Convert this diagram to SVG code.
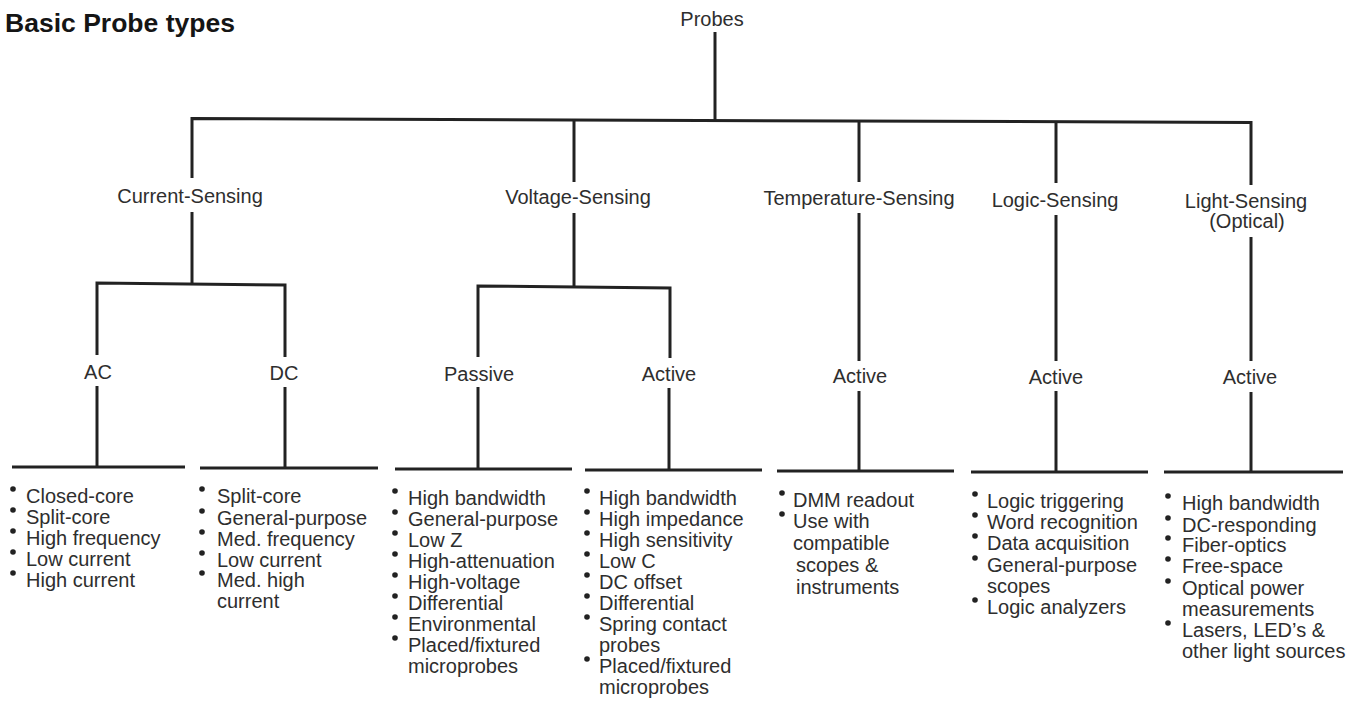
<svg xmlns="http://www.w3.org/2000/svg" width="1360" height="702" viewBox="0 0 1360 702">
<style>
.t{font-family:"Liberation Sans",Arial,sans-serif;font-size:20px;fill:#2e2e2e}
.c{text-anchor:middle}
.title{font-family:"Liberation Sans",Arial,sans-serif;font-size:26px;font-weight:bold;fill:#151515}
.ln{fill:none;stroke:#222;stroke-width:3;stroke-linecap:butt;stroke-linejoin:miter}
.b{fill:#222}
</style>
<rect width="1360" height="702" fill="#fff"/>
<text class="title" x="5" y="32" textLength="230" lengthAdjust="spacingAndGlyphs">Basic Probe types</text>

<g id="connectors">
<path class="ln" d="M715 32 V120"/>
<path class="ln" d="M192 178 V118.5 L1251 122.5 V185"/>
<path class="ln" d="M574 119.5 V182"/>
<path class="ln" d="M859 121 V182"/>
<path class="ln" d="M1056 121.5 V183"/>
<path class="ln" d="M192 212 V284"/>
<path class="ln" d="M97 355 V283 L285 285 V357"/>
<path class="ln" d="M97 386 V467"/>
<path class="ln" d="M285 387 V468"/>
<path class="ln" d="M12 467 H185"/>
<path class="ln" d="M200 468 H378"/>
<path class="ln" d="M574 213 V287"/>
<path class="ln" d="M478 357 V286 L670 288 V358"/>
<path class="ln" d="M478 387 V469"/>
<path class="ln" d="M669 388 V470"/>
<path class="ln" d="M395 469 H572"/>
<path class="ln" d="M585 470 H762"/>
<path class="ln" d="M859 213 V361"/>
<path class="ln" d="M859 391 V471"/>
<path class="ln" d="M777 471 H954"/>
<path class="ln" d="M1056 215 V361"/>
<path class="ln" d="M1056 391 V472"/>
<path class="ln" d="M971 472 H1148"/>
<path class="ln" d="M1251 237 V361"/>
<path class="ln" d="M1251 392 V472"/>
<path class="ln" d="M1164 472 H1343"/>
</g>

<g id="probes"><text class="t c" x="712" y="26">Probes</text></g>
<g id="current-sensing"><text class="t c" x="190" y="203">Current-Sensing</text></g>
<g id="voltage-sensing"><text class="t c" x="578" y="204">Voltage-Sensing</text></g>
<g id="temperature-sensing"><text class="t c" x="859" y="205">Temperature-Sensing</text></g>
<g id="logic-sensing"><text class="t c" x="1055" y="207">Logic-Sensing</text></g>
<g id="light-sensing"><text class="t c" x="1246" y="208">Light-Sensing</text><text class="t c" x="1247" y="228">(Optical)</text></g>

<g id="current-ac"><text class="t c" x="98" y="379">AC</text></g>
<g id="current-dc"><text class="t c" x="284" y="380">DC</text></g>
<g id="voltage-passive"><text class="t c" x="479" y="381">Passive</text></g>
<g id="voltage-active"><text class="t c" x="669" y="381">Active</text></g>
<g id="temperature-active"><text class="t c" x="860" y="383">Active</text></g>
<g id="logic-active"><text class="t c" x="1056" y="384">Active</text></g>
<g id="light-active"><text class="t c" x="1250" y="384">Active</text></g>

<g id="list-ac">
<circle class="b" cx="13" cy="489" r="2.8"/><circle class="b" cx="13" cy="510" r="2.8"/><circle class="b" cx="13" cy="531" r="2.8"/><circle class="b" cx="13" cy="552" r="2.8"/><circle class="b" cx="13" cy="573" r="2.8"/>
<text class="t"><tspan x="26" y="503">Closed-core</tspan><tspan x="26" y="524">Split-core</tspan><tspan x="26" y="545">High frequency</tspan><tspan x="26" y="566">Low current</tspan><tspan x="26" y="587">High current</tspan></text>
</g>

<g id="list-dc">
<circle class="b" cx="202" cy="489" r="2.8"/><circle class="b" cx="202" cy="511" r="2.8"/><circle class="b" cx="202" cy="532" r="2.8"/><circle class="b" cx="202" cy="553" r="2.8"/><circle class="b" cx="202" cy="573" r="2.8"/>
<text class="t"><tspan x="217" y="503">Split-core</tspan><tspan x="217" y="525">General-purpose</tspan><tspan x="217" y="546">Med. frequency</tspan><tspan x="217" y="567">Low current</tspan><tspan x="217" y="587">Med. high</tspan><tspan x="217" y="608">current</tspan></text>
</g>

<g id="list-passive">
<circle class="b" cx="395" cy="491" r="2.8"/><circle class="b" cx="395" cy="512" r="2.8"/><circle class="b" cx="395" cy="533" r="2.8"/><circle class="b" cx="395" cy="554" r="2.8"/><circle class="b" cx="395" cy="575" r="2.8"/><circle class="b" cx="395" cy="596" r="2.8"/><circle class="b" cx="395" cy="617" r="2.8"/><circle class="b" cx="395" cy="638" r="2.8"/>
<text class="t"><tspan x="408" y="505">High bandwidth</tspan><tspan x="408" y="526">General-purpose</tspan><tspan x="408" y="547">Low Z</tspan><tspan x="408" y="568">High-attenuation</tspan><tspan x="408" y="589">High-voltage</tspan><tspan x="408" y="610">Differential</tspan><tspan x="408" y="631">Environmental</tspan><tspan x="408" y="652">Placed/fixtured</tspan><tspan x="408" y="673">microprobes</tspan></text>
</g>

<g id="list-voltage-active">
<circle class="b" cx="587" cy="491" r="2.8"/><circle class="b" cx="587" cy="512" r="2.8"/><circle class="b" cx="587" cy="533" r="2.8"/><circle class="b" cx="587" cy="554" r="2.8"/><circle class="b" cx="587" cy="575" r="2.8"/><circle class="b" cx="587" cy="596" r="2.8"/><circle class="b" cx="587" cy="617" r="2.8"/><circle class="b" cx="587" cy="659" r="2.8"/>
<text class="t"><tspan x="599" y="505">High bandwidth</tspan><tspan x="599" y="526">High impedance</tspan><tspan x="599" y="547">High sensitivity</tspan><tspan x="599" y="568">Low C</tspan><tspan x="599" y="589">DC offset</tspan><tspan x="599" y="610">Differential</tspan><tspan x="599" y="631">Spring contact</tspan><tspan x="599" y="652">probes</tspan><tspan x="599" y="673">Placed/fixtured</tspan><tspan x="599" y="694">microprobes</tspan></text>
</g>

<g id="list-temperature">
<circle class="b" cx="782" cy="493" r="2.8"/><circle class="b" cx="782" cy="514" r="2.8"/>
<text class="t"><tspan x="793" y="507">DMM readout</tspan><tspan x="793" y="528">Use with</tspan><tspan x="793" y="550">compatible</tspan><tspan x="796" y="572">scopes &amp;</tspan><tspan x="796" y="594">instruments</tspan></text>
</g>

<g id="list-logic">
<circle class="b" cx="975" cy="494" r="2.8"/><circle class="b" cx="975" cy="515" r="2.8"/><circle class="b" cx="975" cy="536" r="2.8"/><circle class="b" cx="975" cy="558" r="2.8"/><circle class="b" cx="975" cy="600" r="2.8"/>
<text class="t"><tspan x="987" y="508">Logic triggering</tspan><tspan x="987" y="529">Word recognition</tspan><tspan x="987" y="550">Data acquisition</tspan><tspan x="987" y="572">General-purpose</tspan><tspan x="987" y="593">scopes</tspan><tspan x="987" y="614">Logic analyzers</tspan></text>
</g>

<g id="list-light">
<circle class="b" cx="1168" cy="496" r="2.8"/><circle class="b" cx="1168" cy="518" r="2.8"/><circle class="b" cx="1168" cy="538" r="2.8"/><circle class="b" cx="1168" cy="559" r="2.8"/><circle class="b" cx="1168" cy="581" r="2.8"/><circle class="b" cx="1168" cy="623" r="2.8"/>
<text class="t"><tspan x="1182" y="510">High bandwidth</tspan><tspan x="1182" y="532">DC-responding</tspan><tspan x="1182" y="552">Fiber-optics</tspan><tspan x="1182" y="573">Free-space</tspan><tspan x="1182" y="595">Optical power</tspan><tspan x="1182" y="616">measurements</tspan><tspan x="1182" y="637">Lasers, LED’s &amp;</tspan><tspan x="1182" y="658">other light sources</tspan></text>
</g>
</svg>
